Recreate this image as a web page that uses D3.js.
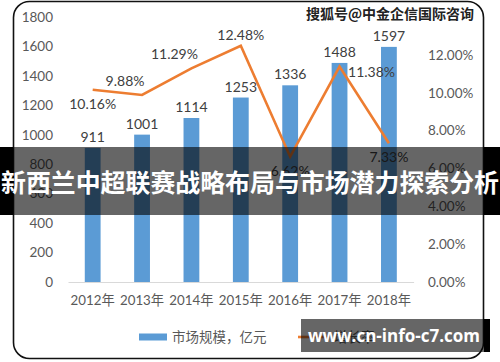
<!DOCTYPE html>
<html>
<head>
<meta charset="utf-8">
<script src="https://cdn.jsdelivr.net/npm/d3@7"></script>
<style>
  body { margin: 0; background: #fff; }
  svg { display: block; }
</style>
</head>
<body>
<div id="chart"></div>
<script>
// chart values
const years = ["2012年", "2013年", "2014年", "2015年", "2016年", "2017年", "2018年"];
const marketSize = [911, 1001, 1114, 1253, 1336, 1488, 1597];
const growthRate = [10.16, 9.88, 11.29, 12.48, 6.62, 11.38, 7.33];
const leftTicks = [0, 200, 400, 600, 800, 1000, 1200, 1400, 1600, 1800];
const rightTicks = [0, 2, 4, 6, 8, 10, 12, 14];
// where each growth label sits relative to its point
const rateLabelSide = ["below", "aboveLeft", "aboveLeft", "above", "below", "right", "below"];

const width = 500, height = 362;
const margin = {top: 17, right: 87, bottom: 80, left: 68};
const fontLat = "Lato, 'Noto Sans CJK SC', sans-serif";
const fontCjk = "'Noto Sans CJK SC', sans-serif";
const textGray = "#595959";

const svg = d3.select("#chart").append("svg")
    .attr("width", width)
    .attr("height", height);

// frame
svg.append("rect")
    .attr("x", 13.5).attr("y", 1.5)
    .attr("width", 470).attr("height", 357)
    .attr("rx", 16)
    .attr("fill", "#fff")
    .attr("stroke", "#111")
    .attr("stroke-width", 1.6);

const x = d3.scaleBand()
    .domain(years)
    .range([margin.left, width - margin.right + 0.6])
    .paddingInner(0.68)
    .paddingOuter(0.34);

const yL = d3.scaleLinear().domain([0, 1800]).range([282, margin.top]);
const yR = d3.scaleLinear().domain([0, 14]).range([282, margin.top]);

// left axis
const axL = d3.axisLeft(yL).tickValues(leftTicks).tickFormat(d3.format("d"))
    .tickSize(0).tickPadding(0);
svg.append("g")
    .attr("transform", "translate(53,0)")
    .call(axL)
    .call(g => g.select(".domain").remove())
    .selectAll("text")
    .attr("font-family", fontLat)
    .attr("font-size", 13.5)
    .attr("fill", textGray);

// right axis
const axR = d3.axisRight(yR).tickValues(rightTicks.slice(0, -1))
    .tickFormat(d => d.toFixed(2) + "%").tickSize(0).tickPadding(0);
svg.append("g")
    .attr("transform", "translate(428,0)")
    .call(axR)
    .call(g => g.select(".domain").remove())
    .selectAll("text")
    .attr("font-family", fontLat)
    .attr("font-size", 13.5)
    .attr("fill", textGray);

// bottom axis
const axB = d3.axisBottom(x).tickSize(0).tickPadding(14);
svg.append("g")
    .attr("transform", "translate(0,282)")
    .call(axB)
    .call(g => g.select(".domain").attr("stroke", "#d9d9d9").attr("stroke-width", 1.2))
    .selectAll("text")
    .attr("font-family", fontLat)
    .attr("font-size", 13.3)
    .attr("fill", textGray);

// bars
svg.selectAll(".bar")
    .data(marketSize)
    .enter().append("rect")
    .attr("class", "bar")
    .attr("x", (d, i) => x(years[i]))
    .attr("width", x.bandwidth())
    .attr("y", d => yL(d))
    .attr("height", d => yL(0) - yL(d))
    .attr("fill", "#5b9bd5");

svg.selectAll(".barLabel")
    .data(marketSize)
    .enter().append("text")
    .attr("class", "barLabel")
    .attr("x", (d, i) => x(years[i]) + x.bandwidth() / 2)
    .attr("y", d => yL(d) - 6)
    .attr("text-anchor", "middle")
    .attr("font-family", fontLat)
    .attr("font-size", 14)
    .attr("fill", "#404040")
    .text(d => d);

// growth line
const cx = i => x(years[i]) + x.bandwidth() / 2;
const line = d3.line()
    .x((d, i) => cx(i))
    .y(d => yR(d));

svg.append("path")
    .datum(growthRate)
    .attr("d", line)
    .attr("fill", "none")
    .attr("stroke", "#ed7d31")
    .attr("stroke-width", 2.6)
    .attr("stroke-linejoin", "miter");

const offsets = {
    below: [0, 19],
    above: [0, -6],
    aboveLeft: [-17, -9],
    right: [32, 10]
};
svg.selectAll(".rateLabel")
    .data(growthRate)
    .enter().append("text")
    .attr("class", "rateLabel")
    .attr("x", (d, i) => cx(i) + offsets[rateLabelSide[i]][0])
    .attr("y", (d, i) => yR(d) + offsets[rateLabelSide[i]][1])
    .attr("text-anchor", "middle")
    .attr("font-family", fontLat)
    .attr("font-size", 14)
    .attr("fill", "#404040")
    .text(d => d.toFixed(2) + "%");

// legend
const legend = svg.append("g").attr("transform", "translate(139,337)");
legend.append("rect").attr("x", 0).attr("y", -3.5).attr("width", 28).attr("height", 7).attr("fill", "#5b9bd5");
legend.append("text").attr("x", 33).attr("y", 5)
    .attr("font-family", fontCjk).attr("font-size", 13.5).attr("fill", textGray)
    .text("市场规模，亿元");
legend.append("line").attr("x1", 159).attr("x2", 189).attr("y1", 0).attr("y2", 0)
    .attr("stroke", "#ed7d31").attr("stroke-width", 2.6);
legend.append("text").attr("x", 195).attr("y", 5)
    .attr("font-family", fontCjk).attr("font-size", 13.5).attr("fill", textGray)
    .text("增长率");

// top watermark
svg.append("text")
    .attr("x", 390).attr("y", 19)
    .attr("text-anchor", "middle")
    .attr("font-family", fontCjk)
    .attr("font-size", 14)
    .attr("font-weight", "bold")
    .attr("fill", "#222")
    .attr("stroke", "#fff")
    .attr("stroke-width", 3)
    .attr("paint-order", "stroke")
    .text("搜狐号@中金企信国际咨询");

// title banner
svg.append("rect").attr("x", 0).attr("y", 147).attr("width", 13).attr("height", 68).attr("fill", "#000");
svg.append("rect").attr("x", 484).attr("y", 147).attr("width", 16).attr("height", 68).attr("fill", "#000");
svg.append("rect").attr("x", 13).attr("y", 147).attr("width", 471).attr("height", 68)
    .attr("fill", "rgba(0,0,0,0.6)");
svg.append("text")
    .attr("x", 250).attr("y", 192)
    .attr("text-anchor", "middle")
    .attr("font-family", fontCjk)
    .attr("font-size", 25)
    .attr("font-weight", "bold")
    .attr("fill", "#fff")
    .attr("textLength", 498)
    .attr("lengthAdjust", "spacingAndGlyphs")
    .text("新西兰中超联赛战略布局与市场潜力探索分析");

// bottom watermark
svg.append("rect").attr("x", 484).attr("y", 319).attr("width", 6).attr("height", 33).attr("fill", "#000");
svg.append("rect").attr("x", 301).attr("y", 319).attr("width", 183).attr("height", 33)
    .attr("fill", "rgba(0,0,0,0.6)");
svg.append("text")
    .attr("x", 394).attr("y", 342)
    .attr("text-anchor", "middle")
    .attr("font-family", "'Open Sans', 'Noto Sans', sans-serif")
    .attr("font-size", 17)
    .attr("font-weight", "bold")
    .attr("fill", "#fff")
    .text("www.cn-info-c7.com");
</script>
</body>
</html>
